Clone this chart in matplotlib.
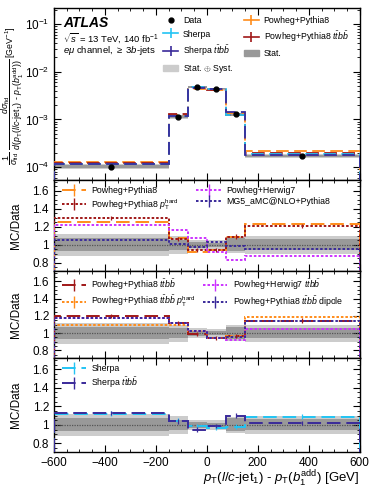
import numpy as np
import matplotlib
matplotlib.use("Agg")
import matplotlib.pyplot as plt
from matplotlib.lines import Line2D
from matplotlib.patches import Patch
from matplotlib.ticker import MultipleLocator, LogLocator, NullFormatter

plt.rcParams['font.family'] = ['Liberation Sans', 'DejaVu Sans']
plt.rcParams['mathtext.fontset'] = 'custom'
plt.rcParams['mathtext.rm'] = 'Liberation Sans'
plt.rcParams['mathtext.it'] = 'Liberation Sans:italic'
plt.rcParams['mathtext.bf'] = 'Liberation Sans:bold'

# binning and data
edges = np.array([-600, -150, -75, 0, 75, 150, 600])
centers = 0.5 * (edges[:-1] + edges[1:])
data = np.array([1.02e-4, 1.15e-3, 4.80e-3, 4.45e-3, 1.27e-3, 1.73e-4])
data_err = np.array([0.04e-4, 0.03e-3, 0.08e-3, 0.08e-3, 0.04e-3, 0.06e-4])

# relative uncertainties of the data
stat_rel = np.array([0.07, 0.055, 0.03, 0.025, 0.07, 0.06])
tot_rel = np.array([0.12, 0.10, 0.055, 0.05, 0.09, 0.10])

# predictions in the top panel
sherpa = np.array([1.14e-4, 1.20e-3, 4.75e-3, 4.32e-3, 1.24e-3, 1.89e-4])
sherpa_ttbb = np.array([1.15e-4, 1.20e-3, 4.56e-3, 4.41e-3, 1.40e-3, 1.76e-4])
pp8 = np.array([1.28e-4, 1.24e-3, 4.42e-3, 4.21e-3, 1.38e-3, 2.14e-4])
pp8_ttbb = np.array([1.22e-4, 1.28e-3, 4.75e-3, 4.18e-3, 1.23e-3, 1.98e-4])

# MC/Data ratios
r_pp8 = [1.255, 1.08, 0.92, 0.945, 1.09, 1.235]
r_pp8_hard = [1.295, 1.065, 0.94, 0.945, 1.09, 1.21]
r_ph7 = [1.22, 1.165, 1.08, 0.92, 0.83, 0.875]
r_mg5 = [1.055, 1.005, 0.975, 1.035, 0.99, 0.955]

r_pp8_ttbb = [1.20, 1.115, 0.99, 0.94, 0.967, 1.145]
r_pp8_ttbb_hard = [1.09, 1.09, 1.02, 0.94, 0.97, 1.19]
r_ph7_ttbb = [1.17, 1.12, 1.03, 0.94, 0.92, 1.05]
r_pp8_ttbb_dip = [1.17, 1.12, 1.02, 0.94, 0.955, 1.145]

r_sherpa = [1.12, 1.045, 0.99, 0.97, 0.98, 1.09]
r_sherpa_ttbb = [1.13, 1.04, 0.95, 0.99, 1.10, 1.02]

c_orange = '#ff8c1a'
c_red = '#a01818'
c_mag = '#cc33ff'
c_blue = '#3a2a9a'
c_cyan = '#22c4f4'
c_stat = '#999999'
c_tot = '#cccccc'

long_dash = (0, (7, 3))
dotted = (0, (1.3, 1.0))

fig = plt.figure(figsize=(3.74, 4.90), dpi=100)
L, W = 0.144, 0.818
ax0 = fig.add_axes([L, 0.633, W, 0.351])
ax1 = fig.add_axes([L, 0.447, W, 0.186])
ax2 = fig.add_axes([L, 0.269, W, 0.178])
ax3 = fig.add_axes([L, 0.078, W, 0.191])


def bands(ax, ref):
    for i in range(len(ref)):
        ax.fill_between(edges[i:i + 2], ref[i] * (1 - tot_rel[i]), ref[i] * (1 + tot_rel[i]),
                        color=c_tot, lw=0, zorder=1)
        ax.fill_between(edges[i:i + 2], ref[i] * (1 - stat_rel[i]), ref[i] * (1 + stat_rel[i]),
                        color=c_stat, lw=0, zorder=1)


def style(ax):
    ax.tick_params(which='both', direction='in', top=True, right=True, labelsize=8.5)
    ax.tick_params(which='major', length=5)
    ax.tick_params(which='minor', length=2.5)
    ax.set_xlim(-600, 600)
    ax.xaxis.set_major_locator(MultipleLocator(200))
    ax.xaxis.set_minor_locator(MultipleLocator(50))
    for s in ax.spines.values():
        s.set_linewidth(1.0)


# ---- top panel
bands(ax0, data)
ax0.stairs(pp8, edges, color=c_orange, lw=1.3, ls=long_dash, zorder=3)
ax0.stairs(pp8_ttbb, edges, color=c_red, lw=1.3, ls=long_dash, zorder=3)
ax0.stairs(sherpa, edges, color=c_cyan, lw=1.3, ls=long_dash, zorder=3)
ax0.stairs(sherpa_ttbb, edges, color=c_blue, lw=1.3, ls=long_dash, zorder=3)
ax0.errorbar(centers, data, yerr=data_err, fmt='o', color='black', ms=3.5, lw=1, zorder=5)
ax0.set_yscale('log')
ax0.set_ylim(5.4e-5, 0.22)
ax0.yaxis.set_major_locator(LogLocator(base=10, numticks=10))
ax0.yaxis.set_minor_locator(LogLocator(base=10, subs=np.arange(2, 10), numticks=20))
ax0.yaxis.set_minor_formatter(NullFormatter())
style(ax0)
ax0.set_xticklabels([])
ax0.set_ylabel(r'$\dfrac{1}{\sigma_{\rm fid}}\ \dfrac{d\sigma_{\rm fid}}{d(p_{\rm T}(l/c\text{-jet}_1)\ \text{-}\ p_{\rm T}(b_1^{\rm add}))}$ [GeV$^{-1}$]',
               fontsize=6.3)

ax0.text(0.03, 0.95, 'ATLAS', transform=ax0.transAxes, fontsize=10, fontweight='bold',
         fontstyle='italic', va='top')
ax0.text(0.03, 0.865, r'$\sqrt{s}$ = 13 TeV, 140 fb$^{-1}$', transform=ax0.transAxes,
         fontsize=6.8, va='top')
ax0.text(0.03, 0.79, r'$e\mu$ channel, $\geq$ 3$b$-jets', transform=ax0.transAxes,
         fontsize=6.8, va='top')

h_data = Line2D([], [], color='black', marker='o', ms=3.5, ls='none')
h_sh = Line2D([], [], color=c_cyan, marker='|', ms=7, lw=1.2, mew=1.2)
h_sht = Line2D([], [], color=c_blue, marker='|', ms=7, lw=1.2, mew=1.2)
h_tot = Patch(color=c_tot)
h_pp = Line2D([], [], color=c_orange, marker='|', ms=7, lw=1.2, mew=1.2)
h_ppt = Line2D([], [], color=c_red, marker='|', ms=7, lw=1.2, mew=1.2)
h_stat = Patch(color=c_stat)
ax0.legend([h_data, h_sh, h_sht, h_tot, h_pp, h_ppt, h_stat, Patch(alpha=0)],
           ['Data', 'Sherpa', r'Sherpa $t\bar{t}b\bar{b}$', r'Stat. $\oplus$ Syst.',
            'Powheg+Pythia8', r'Powheg+Pythia8 $t\bar{t}b\bar{b}$', 'Stat.', ''],
           ncol=2, loc='upper left', bbox_to_anchor=(0.33, 1.0), frameon=False,
           fontsize=6.3, handlelength=1.8, columnspacing=1.2, labelspacing=0.55,
           handletextpad=0.5)


def ratio_panel(ax, series, labels, colors, styles, err, colspace, ncol=2):
    bands(ax, np.ones(6))
    ax.axhline(1, color='#555555', ls=(0, (1, 1)), lw=0.9, zorder=2)
    handles = []
    for vals, c, s, e in zip(series, colors, styles, err):
        ax.stairs(vals, edges, color=c, lw=1.4, ls=s, zorder=3)
        if e:
            ax.errorbar(centers, vals, yerr=0.025, fmt='none', ecolor=c, elinewidth=0.9, zorder=4)
        handles.append(Line2D([], [], color=c, ls=s, lw=1.4, marker='|', ms=8, mew=1.0))
    ax.set_ylim(0.71, 1.72)
    ax.yaxis.set_minor_locator(MultipleLocator(0.05))
    ax.set_yticks([0.8, 1.0, 1.2, 1.4, 1.6])
    ax.set_yticklabels(['0.8', '1', '1.2', '1.4', '1.6'])
    style(ax)
    ax.set_ylabel('MC/Data', fontsize=8.5)
    ax.legend(handles, labels, ncol=ncol, loc='upper left', bbox_to_anchor=(0.0, 1.02),
              frameon=False, fontsize=6.3, handlelength=2.8, columnspacing=colspace,
              labelspacing=0.25, handletextpad=0.6)


ratio_panel(ax1, [r_pp8, r_pp8_hard, r_ph7, r_mg5],
            ['Powheg+Pythia8', r'Powheg+Pythia8 $p_{\rm T}^{\rm hard}$',
             'Powheg+Herwig7', 'MG5_aMC@NLO+Pythia8'],
            [c_orange, c_red, c_mag, c_blue], [long_dash, dotted, dotted, dotted],
            [False, True, False, False], 2.0)
ratio_panel(ax2, [r_pp8_ttbb, r_pp8_ttbb_hard, r_ph7_ttbb, r_pp8_ttbb_dip],
            [r'Powheg+Pythia8 $t\bar{t}b\bar{b}$', r'Powheg+Pythia8 $t\bar{t}b\bar{b}$ $p_{\rm T}^{\rm hard}$',
             r'Powheg+Herwig7 $t\bar{t}b\bar{b}$', r'Powheg+Pythia8 $t\bar{t}b\bar{b}$ dipole'],
            [c_red, c_orange, c_mag, c_blue], [long_dash, dotted, dotted, dotted],
            [True, False, False, False], 0.8)
ratio_panel(ax3, [r_sherpa, r_sherpa_ttbb],
            ['Sherpa', r'Sherpa $t\bar{t}b\bar{b}$'],
            [c_cyan, c_blue], [long_dash, long_dash], [True, True], 2.0, ncol=1)

ax1.set_xticklabels([])
ax2.set_xticklabels([])
ax3.set_xticks([-600, -400, -200, 0, 200, 400, 600])
ax3.set_xticklabels(['\u2212600', '\u2212400', '\u2212200', '0', '200', '400', '600'])
ax3.set_xlabel(r'$p_{\rm T}(l/c$-jet$_1)$ - $p_{\rm T}(b_1^{\rm add})$ [GeV]', fontsize=9.5,
               loc='right', labelpad=0.5)

ax0.yaxis.set_label_coords(-0.092, 0.49)
for ax in (ax1, ax2, ax3):
    ax.yaxis.set_label_coords(-0.105, 0.5)

fig.savefig('out.png', dpi=100)
